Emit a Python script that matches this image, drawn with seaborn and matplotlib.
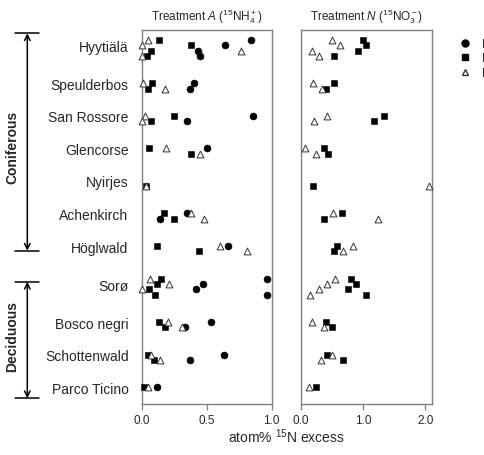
import numpy as np
import pandas as pd
import matplotlib
matplotlib.use("Agg")
import matplotlib.pyplot as plt
import seaborn as sns
from matplotlib.lines import Line2D

nan = np.nan

# sites, top to bottom, and number of replicate rows per site
sites = ["Hyytiälä", "Speulderbos", "San Rossore", "Glencorse", "Nyirjes", "Achenkirch",
         "Höglwald", "Sorø", "Bosco negri", "Schottenwald", "Parco Ticino"]
n_rows = [4, 2, 2, 2, 2, 2, 2, 4, 2, 2, 2]
groups = ["Foliage", "Bark", "Epiphytes"]

# Treatment A (15NH4+), one value per replicate row
A_circle = [[0.84, 0.64, 0.43, 0.45], [0.40, 0.37], [0.86, 0.35], [0.50, nan], [nan, nan],
            [0.35, 0.14], [0.66, nan], [0.966, 0.47, 0.415, 0.966], [0.53, 0.33], [0.63, 0.37], [0.12, nan]]
A_square = [[0.13, 0.38, 0.07, 0.04], [0.08, 0.05], [0.25, 0.07], [0.056, 0.38], [nan, 0.03],
            [0.17, 0.25], [0.115, 0.44], [0.146, 0.115, 0.056, 0.10], [0.13, 0.18], [0.05, 0.097], [0.02, nan]]
A_triangle = [[0.05, 0.0, 0.76, 0.0], [0.01, 0.18], [0.025, 0.0], [0.19, 0.45], [nan, 0.03],
              [0.38, 0.48], [0.60, 0.81], [0.06, 0.21, 0.005, nan], [0.20, 0.31], [0.07, 0.14], [0.05, nan]]

# Treatment N (15NO3-)
N_square = [[0.99, 1.04, 0.92, 0.53], [0.53, 0.40], [1.33, 1.17], [0.37, 0.43], [nan, 0.20],
            [0.66, 0.37], [0.585, 0.53], [0.80, 0.89, 0.75, 1.05], [0.40, 0.505], [0.41, 0.67], [0.24, nan]]
N_triangle = [[0.495, 0.62, 0.18, 0.295], [0.20, 0.33], [0.42, 0.21], [0.065, 0.24], [nan, 2.06],
              [0.52, 1.23], [0.84, 0.67], [0.54, 0.41, 0.295, 0.145], [0.18, 0.37], [0.505, 0.32], [0.13, nan]]

# row index of each site's first replicate (4 empty rows between sites)
starts = []
r = 0
for n in n_rows:
    starts.append(r)
    r += n + 4
label_rows = [s + max(n // 2 - 1, 0) for s, n in zip(starts, n_rows)]


def to_long(values, group, panel):
    recs = []
    for site, s, vals in zip(sites, starts, values):
        for k, v in enumerate(vals):
            if not np.isnan(v):
                recs.append({"site": site, "row": s + k, "x": v, "group": group, "panel": panel})
    return recs


df = pd.DataFrame(to_long(A_circle, "Foliage", "A") + to_long(A_square, "Bark", "A")
                  + to_long(A_triangle, "Epiphytes", "A")
                  + to_long(N_square, "Bark", "N") + to_long(N_triangle, "Epiphytes", "N"))

sns.set_style("white")
plt.rcParams["font.family"] = ["Liberation Sans", "DejaVu Sans"]
plt.rcParams["mathtext.fontset"] = "custom"
plt.rcParams["mathtext.rm"] = "Liberation Sans"
plt.rcParams["mathtext.it"] = "Liberation Sans:italic"

styles = {
    "Foliage": dict(marker="o", color="black", edgecolor="black", s=25, linewidth=0.4),
    "Bark": dict(marker="s", color="black", edgecolor="black", s=19, linewidth=0.4),
    "Epiphytes": dict(marker="^", color="white", edgecolor="#333333", s=24, linewidth=0.7),
}

fig = plt.figure(figsize=(4.85, 4.56), dpi=100)
axA = fig.add_axes([0.2922, 0.1118, 0.2680, 0.8209])
axN = fig.add_axes([0.6206, 0.1118, 0.2695, 0.8209])

for ax, panel in [(axA, "A"), (axN, "N")]:
    sub = df[df["panel"] == panel]
    for g in groups:
        d = sub[sub["group"] == g]
        if len(d):
            sns.scatterplot(data=d, x="x", y="row", ax=ax, legend=False, clip_on=False, zorder=3, **styles[g])
    ax.set_ylim(67.1, -1.84)
    ax.set_xlabel("")
    ax.set_ylabel("")
    for sp in ax.spines.values():
        sp.set_color("#808080")
        sp.set_linewidth(1.0)
    ax.tick_params(axis="x", bottom=True, length=4, width=0.9, color="#808080", labelsize=8.5, pad=3)

axA.set_xlim(0, 1.0)
axA.set_xticks([0.0, 0.5, 1.0])
axA.set_xticklabels(["0.0", "0.5", "1.0"])
axA.set_yticks(label_rows)
axA.set_yticklabels(sites, fontsize=10)
axA.tick_params(axis="y", left=False, pad=6)

axN.set_xlim(0, 2.1)
axN.set_xticks([0.0, 1.0, 2.0])
axN.set_xticklabels(["0.0", "1.0", "2.0"])
axN.set_yticks([])

axA.set_title(r"Treatment $\it{A}$ ($^{15}$NH$_4^+$)", fontsize=8.5, pad=7)
axN.set_title(r"Treatment $\it{N}$ ($^{15}$NO$_3^-$)", fontsize=8.5, pad=7)
fig.text(0.591, 0.042, r"atom% $^{15}$N excess", ha="center", va="center", fontsize=10)

# forest type brackets
W, H = 485, 456
for top, bot, name, mid in [(34.3, 251.7, "Coniferous", 147), (282.7, 399.3, "Deciduous", 337)]:
    for y in (top, bot):
        fig.add_artist(Line2D([15 / W, 39 / W], [1 - y / H, 1 - y / H], color="black", lw=1.1))
    axA.annotate("", xy=(27.3 / W, 1 - top / H), xytext=(27.3 / W, 1 - bot / H),
                 xycoords="figure fraction", textcoords="figure fraction",
                 arrowprops=dict(arrowstyle="<->", color="black", lw=1.1,
                                 shrinkA=0, shrinkB=0, mutation_scale=10))
    fig.text(12.5 / W, 1 - mid / H, name, rotation=90, ha="center", va="center",
             fontsize=10, fontweight="bold")

handles = [Line2D([], [], linestyle="", marker="o", color="black", markersize=5),
           Line2D([], [], linestyle="", marker="s", color="black", markersize=4.5),
           Line2D([], [], linestyle="", marker="^", markerfacecolor="white",
                  markeredgecolor="#333333", markersize=5)]
fig.legend(handles, groups, loc="upper left", bbox_to_anchor=(0.937, 0.925), frameon=False,
           fontsize=8.5, handlelength=1.0, handletextpad=0.9, labelspacing=0.2, borderaxespad=0)

fig.savefig("out.png", dpi=100)
